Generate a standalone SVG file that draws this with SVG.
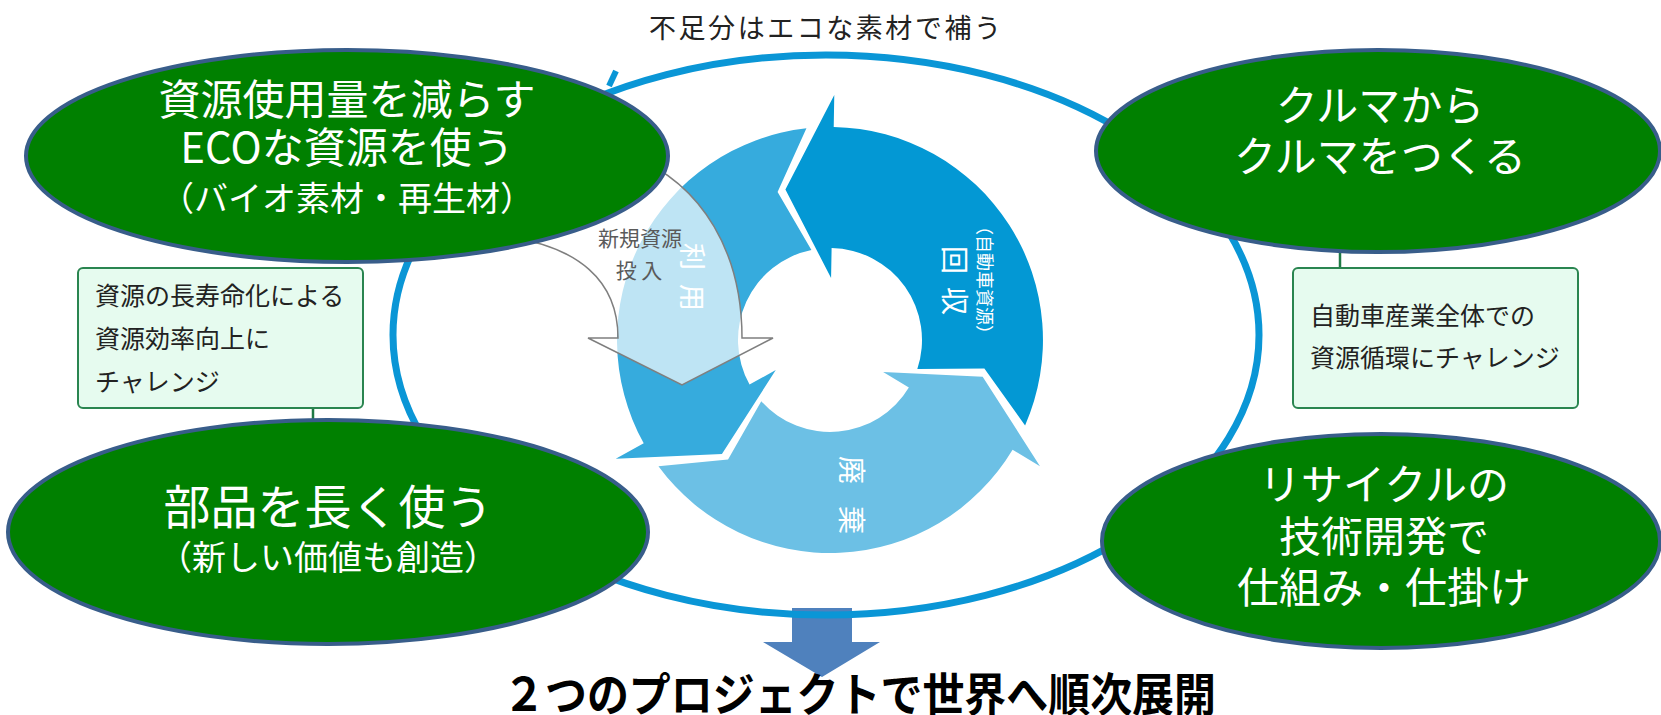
<svg xmlns="http://www.w3.org/2000/svg" width="1661" height="715" viewBox="0 0 1661 715">
<defs>
<style>
.t{font-family:"Noto Sans CJK JP","Noto Sans",sans-serif}
.node ellipse{fill:#008000;stroke:#385D8A;stroke-width:4}
.wt{fill:#ffffff;text-anchor:middle}
.box{fill:#E6FBEF;stroke:#2A8550;stroke-width:2}
.bt{fill:#222222;font-size:25px}
.rt{fill:#ffffff}
.ring{stroke:none}
.conn{stroke:#1F7A45;stroke-width:2.5;fill:none}
</style>
</defs>
<rect width="1661" height="715" fill="#ffffff"/>

<g id="down-arrow">
<path d="M792,608 H852 V642 H880 L822,677 L763,642 H792 Z" fill="#4F81BD"/>
</g>

<g id="connectors">
<ellipse cx="826" cy="335" rx="433" ry="280" fill="none" stroke="#0A96D6" stroke-width="7"/>
<line x1="609" y1="86" x2="616" y2="71" stroke="#0A96D6" stroke-width="6"/>
<line class="conn" x1="313" y1="408" x2="313" y2="426"/>
<line class="conn" x1="1340" y1="245" x2="1340" y2="268"/>
</g>

<g id="cycle">
<path id="kaishu" class="ring" fill="#0398D4" d="M1025.1,425.4 A213,213 0 0 0 833.72,127.03 L834.28,95.04 L785.41,189.47 L831.08,278.01 L831.61,248.01 A92,92 0 0 1 917.33,368.95 L984.37,368.61 Z"/>
<path id="riyou" class="ring" fill="#36ABDD" d="M806.44,128.31 A213,213 0 0 0 643.71,443.26 L615.72,458.78 L721.93,453.88 L775.77,370.06 L749.53,384.6 A92,92 0 0 1 811.41,249.9 L777.59,192.01 Z"/>
<path id="haiki" class="ring" fill="#6CC0E5" d="M658.43,466.23 A213,213 0 0 0 1012.58,449.7 L1040.01,466.18 L982.66,376.65 L883.14,371.93 L908.86,387.38 A92,92 0 0 1 761.27,401.16 L728.04,459.38 Z"/>
<text class="t rt" transform="translate(682,243) rotate(90)" font-size="27" letter-spacing="14">利用</text>
<text class="t rt" transform="translate(978,217) rotate(90)" font-size="18">（自動車資源）</text>
<text class="t rt" transform="translate(944,246) rotate(90)" font-size="28" letter-spacing="13">回収</text>
<text class="t rt" transform="translate(841,456) rotate(90)" font-size="28" letter-spacing="22">廃棄</text>
</g>

<g id="input-arrow">
<path d="M630,155 C705,185 742,255 742,338 L773,338 L682,385 L588,338 L618,338 C618,282 580,245 500,236 Z" fill="#ffffff" fill-opacity="0.68" stroke="#7F7F7F" stroke-width="1.5"/>
<text class="t" x="640" y="246" font-size="21" fill="#5A5A5A" text-anchor="middle">新規資源</text>
<text class="t" x="639" y="278" font-size="21" fill="#5A5A5A" text-anchor="middle">投 入</text>
</g>

<g id="box-left">
<rect class="box" x="78" y="268" width="285" height="140" rx="5"/>
<text class="t bt" x="95" y="305">資源の長寿命化による</text>
<text class="t bt" x="95" y="348">資源効率向上に</text>
<text class="t bt" x="95" y="391">チャレンジ</text>
</g>

<g id="box-right">
<rect class="box" x="1293" y="268" width="285" height="140" rx="5"/>
<text class="t bt" x="1310" y="325">自動車産業全体での</text>
<text class="t bt" x="1310" y="367">資源循環にチャレンジ</text>
</g>

<g id="node-reduce" class="node">
<ellipse cx="347" cy="156" rx="321" ry="106"/>
<text class="t wt" x="347" y="115" font-size="42">資源使用量を減らす</text>
<text class="t wt" x="347" y="163" font-size="42">ECOな資源を使う</text>
<text class="t wt" x="347" y="211" font-size="34">（バイオ素材・再生材）</text>
</g>

<g id="node-longuse" class="node">
<ellipse cx="328" cy="532" rx="320" ry="112"/>
<text class="t wt" x="328" y="524" font-size="47">部品を長く使う</text>
<text class="t wt" x="328" y="570" font-size="34">（新しい価値も創造）</text>
</g>

<g id="node-car" class="node">
<ellipse cx="1378" cy="151" rx="282" ry="101"/>
<text class="t wt" x="1380" y="121" font-size="42">クルマから</text>
<text class="t wt" x="1380" y="172" font-size="42">クルマをつくる</text>
</g>

<g id="node-recycle" class="node">
<ellipse cx="1381" cy="541" rx="279" ry="107"/>
<text class="t wt" x="1384" y="500" font-size="42">リサイクルの</text>
<text class="t wt" x="1384" y="552" font-size="42">技術開発で</text>
<text class="t wt" x="1384" y="603" font-size="42">仕組み・仕掛け</text>
</g>

<g id="labels">
<text class="t" x="825" y="38" font-size="27" fill="#222222" text-anchor="middle" textLength="352">不足分はエコな素材で補う</text>
<text class="t" x="503" y="711" font-size="46" font-weight="700" fill="#000000" textLength="713" lengthAdjust="spacingAndGlyphs">２つのプロジェクトで世界へ順次展開</text>
</g>
</svg>
